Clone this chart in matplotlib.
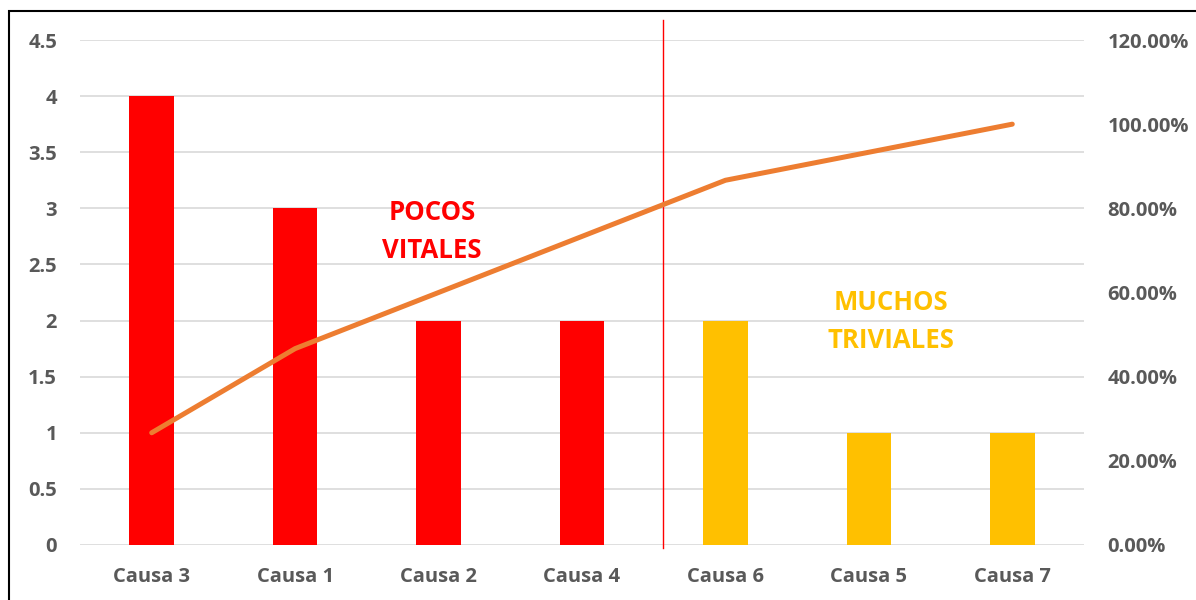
import matplotlib
matplotlib.use("Agg")
import matplotlib.pyplot as plt
from matplotlib.patches import Rectangle

categories = ["Causa 3", "Causa 1", "Causa 2", "Causa 4", "Causa 6", "Causa 5", "Causa 7"]
counts = [4, 3, 2, 2, 2, 1, 1]
cumulative_pct = [26.67, 46.67, 60.0, 73.33, 86.67, 93.33, 100.0]
bar_colors = ["#FF0000"] * 4 + ["#FFC000"] * 3
left_ticks = [0, 0.5, 1, 1.5, 2, 2.5, 3, 3.5, 4, 4.5]
left_labels = ["0", "0.5", "1", "1.5", "2", "2.5", "3", "3.5", "4", "4.5"]
right_ticks = [0, 20, 40, 60, 80, 100, 120]
right_labels = ["0.00%", "20.00%", "40.00%", "60.00%", "80.00%", "100.00%", "120.00%"]

FONT = ["Open Sans", "DejaVu Sans"]
plt.rcParams["font.family"] = FONT
TICK_COLOR = "#595959"

fig = plt.figure(figsize=(11.96, 6.0), dpi=100)
W, H = 1196, 600
ax = fig.add_axes([80 / W, 1 - 545 / H, (1084 - 80) / W, (545 - 40) / H])

x = list(range(len(categories)))
ax.bar(x, counts, width=0.31, color=bar_colors, zorder=3)
ax.set_xlim(-0.5, len(categories) - 0.5)
ax.set_ylim(0, 4.5)
ax.set_yticks(left_ticks)
ax.set_yticklabels(left_labels)
ax.set_xticks(x)
ax.set_xticklabels(categories)
for s in ax.spines.values():
    s.set_visible(False)
ax.grid(axis="y", color="#D9D9D9", linewidth=1.2, zorder=0)
ax.tick_params(axis="both", length=0, labelsize=14.5, labelcolor=TICK_COLOR)
ax.tick_params(axis="y", pad=16.5)
ax.tick_params(axis="x", pad=15.5)
for lab in ax.get_xticklabels() + ax.get_yticklabels():
    lab.set_fontweight("bold")

ax2 = ax.twinx()
ax2.set_ylim(0, 120)
ax2.set_yticks(right_ticks)
ax2.set_yticklabels(right_labels)
for s in ax2.spines.values():
    s.set_visible(False)
ax2.tick_params(axis="y", length=0, labelsize=14.5, labelcolor=TICK_COLOR, pad=17)
for lab in ax2.get_yticklabels():
    lab.set_fontweight("bold")
ax2.plot(x, cumulative_pct, color="#ED7D31", linewidth=3.6, solid_capstyle="round", zorder=4)

# divider line
ax.plot([3.566, 3.566], [-0.027, 4.678], color="#FF0000", linewidth=1.0, clip_on=False, zorder=5)

ax.text(1.954, 2.794, "POCOS\nVITALES", color="#FF0000", fontsize=18.5, fontweight="bold",
        ha="center", va="center", linespacing=1.55, zorder=6)
ax.text(5.154, 1.992, "MUCHOS\nTRIVIALES", color="#FFC000", fontsize=18.5, fontweight="bold",
        ha="center", va="center", linespacing=1.55, zorder=6)

fig.patches.append(Rectangle((9 / W, -0.01), 1.2, 1 - 11 / H + 0.01, transform=fig.transFigure,
                             fill=False, edgecolor="black", linewidth=1.5))

fig.savefig("out.png", dpi=100, facecolor="white")
